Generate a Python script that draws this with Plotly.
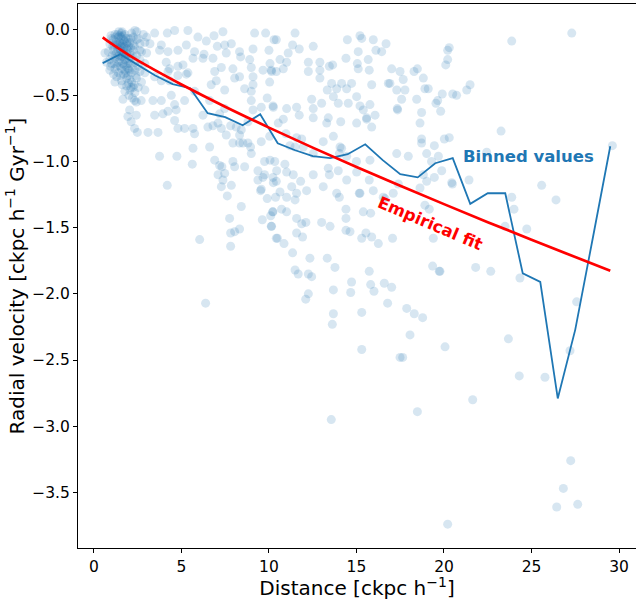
import plotly.graph_objects as go

# Individual objects: (distance [ckpc/h], radial velocity [ckpc/h/Gyr])
points = [
    # dense inner clump
    (1.01, -0.07), (1.20, -0.04), (1.39, -0.06), (1.58, -0.03), (1.77, -0.04), (1.96, -0.07), (2.15, -0.03),
    (2.34, -0.01), (2.53, -0.07), (2.82, -0.04), (3.01, -0.06),
    (0.91, -0.11), (1.10, -0.08), (1.30, -0.12), (1.49, -0.10), (1.68, -0.08), (1.87, -0.11), (2.06, -0.10),
    (2.25, -0.12), (2.44, -0.08), (2.63, -0.11), (2.91, -0.10), (3.20, -0.11),
    (0.82, -0.17), (1.10, -0.16), (1.30, -0.18), (1.49, -0.15), (1.68, -0.17), (1.87, -0.15), (2.06, -0.18),
    (2.25, -0.16), (2.44, -0.20), (2.72, -0.17), (3.01, -0.18),
    (0.91, -0.23), (1.20, -0.22), (1.39, -0.25), (1.58, -0.21), (1.77, -0.23), (1.96, -0.26), (2.15, -0.22),
    (2.34, -0.25), (2.63, -0.23), (2.91, -0.26),
    (0.91, -0.31), (1.20, -0.30), (1.49, -0.28), (1.77, -0.31), (1.96, -0.30), (2.15, -0.33), (2.34, -0.31),
    (2.63, -0.32), (2.91, -0.33),
    (1.30, -0.36), (1.58, -0.39), (1.87, -0.37), (2.15, -0.40), (2.25, -0.44), (2.44, -0.37), (2.72, -0.40),
    (2.06, -0.46), (2.34, -0.48), (1.87, -0.43), (2.53, -0.44), (2.91, -0.46),
    (1.01, -0.26), (0.72, -0.25), (0.63, -0.18), (1.39, -0.33), (1.20, -0.40),
    (1.50, -0.12), (1.60, -0.18), (1.70, -0.14), (1.80, -0.20), (1.90, -0.10), (2.00, -0.22), (1.45, -0.20),
    (1.65, -0.26), (1.85, -0.28), (2.10, -0.14), (1.55, -0.06), (1.75, -0.09), (1.35, -0.15), (1.25, -0.19),
    (1.95, -0.35), (2.05, -0.38), (2.20, -0.29), (2.40, -0.35), (2.30, -0.42), (2.20, -0.52), (2.00, -0.50),
    (1.15, -0.12), (1.05, -0.20), (0.95, -0.28), (1.12, -0.34), (1.70, -0.34), (1.60, -0.02), (2.45, -0.02),
    (2.25, -0.06), (1.35, -0.04),
    (1.42, -0.09), (1.52, -0.16), (1.62, -0.11), (1.72, -0.19), (1.82, -0.07), (1.92, -0.16), (1.47, -0.24),
    (1.57, -0.30), (1.67, -0.05), (1.77, -0.13), (1.87, -0.24), (1.97, -0.13), (2.07, -0.26), (1.37, -0.21),
    (1.27, -0.10), (1.17, -0.26), (1.07, -0.13), (1.32, -0.28), (1.52, -0.35), (1.62, -0.42), (1.82, -0.33),
    (2.12, -0.07), (2.22, -0.20), (2.32, -0.13), (2.02, -0.31), (1.42, -0.02), (1.22, -0.06), (0.97, -0.05),
    (1.72, -0.27), (1.57, -0.13), (1.67, -0.21), (1.47, -0.05), (1.37, -0.12), (1.87, -0.19), (2.52, -0.28),
    (2.62, -0.16), (2.12, -0.44), (1.97, -0.41), (1.77, -0.47), (2.42, -0.55),
    # 3 - 10.5 ckpc/h
    (3.47, -0.03), (4.19, -0.03), (4.61, -0.01), (5.37, -0.01), (5.94, -0.06), (6.42, -0.09), (6.86, -0.05),
    (7.37, -0.02), (9.18, -0.03), (9.81, -0.03), (10.42, -0.08),
    (3.85, -0.12), (3.75, -0.16), (4.23, -0.17), (4.80, -0.16), (5.28, -0.12), (5.75, -0.17), (6.29, -0.19),
    (6.80, -0.22), (7.05, -0.13), (7.47, -0.12), (7.56, -0.18), (7.85, -0.11), (8.32, -0.17), (8.38, -0.21),
    (9.09, -0.15), (10.00, -0.16),
    (4.13, -0.25), (4.32, -0.30), (4.23, -0.32), (4.80, -0.28), (5.09, -0.27), (5.37, -0.33), (5.66, -0.22),
    (6.23, -0.22), (7.28, -0.29), (6.90, -0.32), (7.94, -0.30), (8.32, -0.36), (8.90, -0.23), (8.99, -0.29),
    (9.09, -0.36), (9.66, -0.31), (10.13, -0.31), (10.42, -0.32),
    (3.47, -0.36), (3.85, -0.39), (4.32, -0.39), (4.80, -0.35), (5.28, -0.34), (6.70, -0.42), (6.99, -0.39),
    (7.47, -0.46), (8.04, -0.37), (8.61, -0.45), (9.09, -0.42), (8.99, -0.47), (10.04, -0.40),
    (1.66, -0.53), (2.32, -0.54), (2.70, -0.54), (3.37, -0.54), (3.85, -0.54), (4.42, -0.50), (4.61, -0.57),
    (4.70, -0.61), (5.18, -0.54), (5.75, -0.47), (6.61, -0.54), (7.18, -0.64), (7.47, -0.60), (8.99, -0.54),
    (9.09, -0.61), (9.56, -0.59), (9.90, -0.52), (10.23, -0.58),
    (2.04, -0.61), (2.42, -0.65), (1.94, -0.66), (2.13, -0.70), (2.32, -0.75), (2.48, -0.78), (3.09, -0.78),
    (3.66, -0.78), (3.47, -0.65), (3.94, -0.64), (4.23, -0.62), (4.61, -0.69), (4.80, -0.75), (5.18, -0.75),
    (5.66, -0.75), (5.75, -0.79), (6.23, -0.65), (6.51, -0.74), (6.80, -0.73), (7.09, -0.71), (7.28, -0.75),
    (7.56, -0.80), (7.81, -0.73), (8.13, -0.74), (8.42, -0.76), (8.32, -0.80), (8.80, -0.70),
    (5.66, -0.90), (6.61, -0.89), (7.94, -0.86), (8.32, -0.86), (8.51, -0.86), (8.80, -0.86), (8.95, -0.89),
    (9.56, -0.85), (10.04, -0.81),
    (3.75, -0.96), (4.74, -0.96), (5.62, -1.02), (6.90, -0.99), (7.18, -1.03), (7.31, -1.04), (7.47, -1.09),
    (7.09, -1.10), (7.94, -1.00), (8.04, -1.04), (8.61, -1.04), (8.99, -0.94), (9.37, -1.07), (9.75, -1.00),
    (10.33, -1.00),
    (4.19, -1.18), (7.37, -1.14), (7.28, -1.19), (7.85, -1.18), (9.37, -1.14), (9.66, -1.12), (9.75, -1.10),
    (10.23, -1.12), (9.56, -1.21), (10.42, -1.15), (7.62, -1.26),
    (8.42, -1.34), (7.75, -1.43), (7.81, -1.54), (8.04, -1.53), (8.32, -1.51), (7.81, -1.64), (6.04, -1.59),
    (6.38, -2.07), (9.52, -1.22), (9.90, -1.28), (10.38, -1.27), (10.23, -1.38), (10.10, -1.41), (9.62, -1.44),
    (10.13, -1.49), (10.42, -1.58),
    # 10 - 21 ckpc/h, upper part
    (11.49, -0.03), (10.29, -0.08), (11.35, -0.12), (11.73, -0.15), (12.53, -0.13), (11.10, -0.18),
    (10.63, -0.23), (11.01, -0.25), (12.25, -0.25), (12.91, -0.25), (10.06, -0.26), (14.48, -0.08),
    (15.20, -0.05), (15.30, -0.07), (15.96, -0.08), (16.69, -0.11), (15.10, -0.17), (16.11, -0.16),
    (16.44, -0.17), (14.40, -0.22), (15.67, -0.23), (15.05, -0.26), (15.10, -0.30), (15.73, -0.31),
    (17.01, -0.30), (17.49, -0.32), (18.29, -0.32), (18.48, -0.30), (20.30, -0.14), (20.21, -0.16),
    (20.21, -0.23), (20.10, -0.27), (12.91, -0.31), (13.45, -0.28), (13.64, -0.27), (12.25, -0.32),
    (10.82, -0.30), (10.15, -0.32), (12.91, -0.37), (13.58, -0.41), (14.15, -0.41), (14.72, -0.41),
    (14.44, -0.45), (13.87, -0.45), (13.33, -0.46), (13.68, -0.51), (15.87, -0.42), (16.82, -0.41),
    (17.30, -0.46), (17.77, -0.46), (18.82, -0.37), (18.91, -0.45), (19.10, -0.45), (19.90, -0.49),
    (20.50, -0.49), (20.72, -0.50), (21.30, -0.46), (18.44, -0.53), (19.54, -0.56), (19.64, -0.54),
    (19.81, -0.62), (18.72, -0.63), (17.58, -0.53), (17.33, -0.60), (15.77, -0.57), (15.20, -0.58),
    (15.01, -0.51), (14.53, -0.56), (13.96, -0.56), (13.01, -0.56), (12.53, -0.60), (12.44, -0.53),
    (11.58, -0.59), (11.01, -0.60), (10.25, -0.59), (10.82, -0.68), (10.53, -0.71), (11.73, -0.65),
    (12.53, -0.67), (13.39, -0.67), (13.30, -0.71), (14.10, -0.70), (15.01, -0.71), (15.58, -0.68),
    (15.87, -0.74), (16.06, -0.65), (13.68, -0.81), (13.10, -0.85), (11.87, -0.83), (11.58, -0.82),
    (10.97, -0.79), (11.20, -0.88), (11.49, -0.89), (11.96, -0.89), (12.53, -0.94), (14.06, -0.89),
    (14.02, -0.94), (17.30, -0.94), (17.96, -0.96), (18.72, -0.83), (18.72, -0.86), (19.45, -0.88),
    (20.02, -0.83), (20.30, -0.82), (19.01, -0.94), (19.68, -0.96), (10.06, -0.99), (10.44, -1.07),
    (10.91, -1.02), (11.01, -1.08), (10.25, -1.16), (11.39, -1.10), (11.81, -1.15), (11.30, -1.19),
    (12.53, -1.10), (13.39, -1.05), (13.45, -1.10), (13.96, -1.07), (14.44, -1.14), (13.10, -1.19),
    (13.87, -1.24), (15.01, -1.08), (15.73, -1.14), (15.20, -1.24), (16.53, -1.27), (17.10, -1.24),
    (17.39, -1.17), (10.63, -1.23), (11.58, -1.24), (20.44, -1.16), (19.87, -1.07), (19.01, -1.15),
    (17.67, -0.38), (16.91, -0.41), (15.39, -0.61), (15.58, -0.67), (17.35, -0.61), (18.63, -0.71),
    (19.29, -1.00), (18.82, -1.10), (19.45, -1.12), (15.96, -1.22), (18.63, -1.20), (14.15, -0.90),
    (14.44, -0.96), (15.00, -1.00), (15.77, -0.99),
    # outer region
    (27.30, -0.03), (23.87, -0.09), (21.49, -0.42), (23.26, -0.77), (22.44, -0.93), (21.43, -1.14),
    (20.48, -1.17), (25.58, -1.18), (23.87, -1.27), (26.40, -1.29), (29.62, -0.88),
    (24.00, -1.36), (23.49, -1.49), (24.73, -1.51), (19.77, -1.83), (21.81, -1.80), (22.67, -1.83),
    (24.34, -1.88), (27.58, -2.06), (23.68, -2.34), (20.06, -2.40), (27.20, -2.43), (24.30, -2.62),
    (25.77, -2.63),
    # 10 - 20 ckpc/h, lower part
    (11.01, -1.27), (11.49, -1.29), (12.15, -1.22), (14.02, -1.27), (15.16, -1.24), (16.63, -1.28),
    (18.91, -1.33), (19.16, -1.36), (10.21, -1.38), (10.72, -1.36), (11.01, -1.38), (11.58, -1.43),
    (11.87, -1.47), (12.11, -1.46), (10.15, -1.49), (13.01, -1.46), (13.49, -1.49), (14.40, -1.36),
    (14.40, -1.43), (15.39, -1.38), (15.81, -1.39), (14.40, -1.52), (14.63, -1.53), (15.30, -1.58),
    (15.54, -1.54), (15.87, -1.57), (16.25, -1.62), (17.06, -1.58), (19.39, -1.58), (10.48, -1.58),
    (10.86, -1.62), (11.58, -1.54), (11.92, -1.57), (11.35, -1.69), (12.34, -1.73), (13.33, -1.73),
    (13.77, -1.80), (11.49, -1.82), (11.67, -1.85), (12.25, -1.85), (12.44, -1.87), (15.73, -1.83),
    (14.72, -1.91), (15.81, -1.93), (16.00, -1.98), (16.59, -1.92), (17.01, -1.95), (19.35, -1.79),
    (19.73, -1.83), (13.68, -1.97), (14.67, -1.99), (12.25, -2.00), (12.10, -2.04), (16.78, -2.07),
    (17.87, -2.11), (18.30, -2.15), (18.78, -2.18), (13.68, -2.15), (13.62, -2.23), (15.30, -2.14),
    (18.06, -2.31), (15.30, -2.42), (17.49, -2.48), (17.64, -2.48),
    # most negative velocities
    (13.56, -2.95), (18.48, -2.89), (21.64, -2.80), (27.24, -3.26), (26.82, -3.47), (26.44, -3.61),
    (27.64, -3.59), (20.21, -3.74),
]

distance = [p[0] for p in points]
radial_velocity = [p[1] for p in points]

# Mean radial velocity in 1 ckpc/h wide distance bins
bin_centres = [0.5, 1.5, 2.5, 3.5, 4.5, 5.5, 6.5, 7.5, 8.5, 9.5,
               10.5, 11.5, 12.5, 13.5, 14.5, 15.5, 16.5, 17.5, 18.5, 19.5,
               20.5, 21.5, 22.5, 23.5, 24.5, 25.5, 26.5, 27.5, 28.5, 29.5]
bin_means = [-0.257, -0.19, -0.27, -0.35, -0.415, -0.446, -0.635, -0.665, -0.726, -0.643,
             -0.862, -0.915, -0.96, -0.975, -0.945, -0.87, -0.99, -1.096, -1.12, -1.013,
             -0.975, -1.32, -1.24, -1.24, -1.845, -1.91, -2.79, -2.27, -1.58, -0.885]

# Empirical fit curve
fit_distance = [0.5, 1, 2, 3, 5, 7.5, 10, 12.5, 15, 17.5, 20, 22.5, 25, 27.5, 29.5]
fit_velocity = [-0.062, -0.110, -0.196, -0.274, -0.418, -0.586, -0.744, -0.895, -1.041,
                -1.183, -1.322, -1.458, -1.591, -1.722, -1.825]

x_ticks = [0, 5, 10, 15, 20, 25, 30]
y_ticks = [0.0, -0.5, -1.0, -1.5, -2.0, -2.5, -3.0, -3.5]
y_tick_text = ["0.0", "\u22120.5", "\u22121.0", "\u22121.5", "\u22122.0", "\u22122.5", "\u22123.0", "\u22123.5"]

BLUE = "#1f77b4"
FONT = "DejaVu Sans"

fig = go.Figure()
fig.add_trace(go.Scatter(
    x=distance, y=radial_velocity, mode="markers",
    marker=dict(size=9, color=BLUE, opacity=0.18, line=dict(width=0)),
    showlegend=False, hoverinfo="skip",
))
fig.add_trace(go.Scatter(
    x=bin_centres, y=bin_means, mode="lines",
    line=dict(color=BLUE, width=1.8), showlegend=False,
))
fig.add_trace(go.Scatter(
    x=fit_distance, y=fit_velocity, mode="lines", line_shape="spline",
    line=dict(color="red", width=2.7), showlegend=False,
))

fig.add_annotation(x=24.8, y=-0.96, text="<b>Binned values</b>", showarrow=False,
                   font=dict(family=FONT, size=16.5, color=BLUE), xanchor="center", yanchor="middle")
fig.add_annotation(x=19.2, y=-1.47, text="<b>Empirical fit</b>", showarrow=False, textangle=23,
                   font=dict(family=FONT, size=16.5, color="red"), xanchor="center", yanchor="middle")

fig.update_layout(
    width=636, height=600,
    margin=dict(l=78, r=0, t=4, b=52),
    paper_bgcolor="white", plot_bgcolor="white",
    font=dict(family=FONT, color="black"),
    xaxis=dict(
        range=[-0.91, 30.97], tickvals=x_ticks, ticktext=[str(t) for t in x_ticks],
        showgrid=False, zeroline=False, showline=True, mirror=True, linecolor="black", linewidth=1,
        ticks="outside", ticklen=4, tickwidth=1, tickcolor="black",
        tickfont=dict(family=FONT, size=15.5, color="black"),
        title=dict(text="Distance [ckpc h<sup>\u22121</sup>]", font=dict(family=FONT, size=20, color="black"),
                   standoff=6),
    ),
    yaxis=dict(
        range=[-3.92, 0.19], tickvals=y_ticks, ticktext=y_tick_text,
        showgrid=False, zeroline=False, showline=True, mirror=False, linecolor="black", linewidth=1,
        ticks="outside", ticklen=4, tickwidth=1, tickcolor="black",
        tickfont=dict(family=FONT, size=15.5, color="black"),
        title=dict(text="Radial velocity [ckpc h<sup>\u22121</sup> Gyr<sup>\u22121</sup>]",
                   font=dict(family=FONT, size=20, color="black"), standoff=2),
    ),
)

fig.write_html("out.html")
